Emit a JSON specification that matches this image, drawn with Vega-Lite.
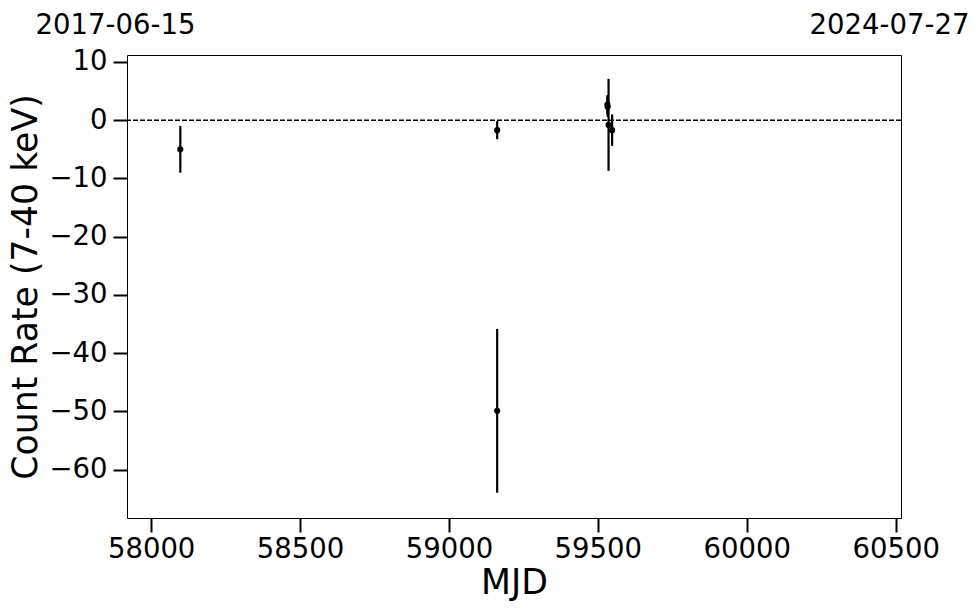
{
  "$schema": "https://vega.github.io/schema/vega-lite/v6.json",
  "width": 774,
  "height": 463,
  "autosize": {"type": "none"},
  "padding": {"left": 127, "top": 55, "right": 79, "bottom": 95},
  "config": {
    "font": "DejaVu Sans",
    "view": {"stroke": "black", "strokeWidth": 1},
    "axis": {"grid": false, "domain": false, "tickColor": "black", "labelColor": "black", "titleColor": "black", "titleFontWeight": "normal", "labelFont": "DejaVu Sans", "titleFont": "DejaVu Sans"}
  },
  "data": {
    "values": [
      {"mjd": 58098, "rate": -5.0, "err": 4.0},
      {"mjd": 59162, "rate": -1.7, "err": 1.55},
      {"mjd": 59162, "rate": -49.9, "err": 14.05},
      {"mjd": 59532, "rate": 2.7, "err": 1.6},
      {"mjd": 59533, "rate": 2.3, "err": 1.7},
      {"mjd": 59536, "rate": -0.8, "err": 7.9},
      {"mjd": 59548, "rate": -1.7, "err": 2.7}
    ]
  },
  "layer": [
    {
      "data": {"values": [{"y0": 0}]},
      "mark": {"type": "rule", "strokeDash": [5, 2], "strokeWidth": 1.4, "color": "black"},
      "encoding": {"y": {"field": "y0", "type": "quantitative"}}
    },
    {
      "mark": {"type": "errorbar", "thickness": 2.2, "color": "black"},
      "encoding": {
        "x": {"field": "mjd", "type": "quantitative",
          "scale": {"domain": [57919, 60518], "nice": false, "zero": false},
          "axis": {"orient": "bottom", "values": [58000, 58500, 59000, 59500, 60000, 60500], "format": "d", "title": "MJD", "titleFontSize": 34.7, "labelFontSize": 27.5, "tickSize": 14, "tickWidth": 2, "labelPadding": 3, "titlePadding": 4}},
        "y": {"field": "rate", "type": "quantitative",
          "scale": {"domain": [-68.3, 11.2], "nice": false, "zero": false},
          "axis": {"values": [-60, -50, -40, -30, -20, -10, 0, 10], "title": "Count Rate (7-40 keV)", "titleFontSize": 34.7, "labelFontSize": 27.5, "tickSize": 14, "tickWidth": 2, "labelPadding": 6, "titlePadding": 5}},
        "yError": {"field": "err"}
      }
    },
    {
      "mark": {"type": "circle", "size": 38, "color": "black", "opacity": 1},
      "encoding": {
        "x": {"field": "mjd", "type": "quantitative",
          "axis": {"orient": "top", "values": [57919, 60518], "labelExpr": "datum.value < 59000 ? '2017-06-15' : '2024-07-27'", "tickSize": 0, "labelPadding": 16, "labelFontSize": 27.5, "labelOffset": -12, "title": null, "labelFlush": false, "labelOverlap": false, "labelBound": false}},
        "y": {"field": "rate", "type": "quantitative"}
      }
    }
  ],
  "resolve": {"axis": {"x": "independent"}}
}
